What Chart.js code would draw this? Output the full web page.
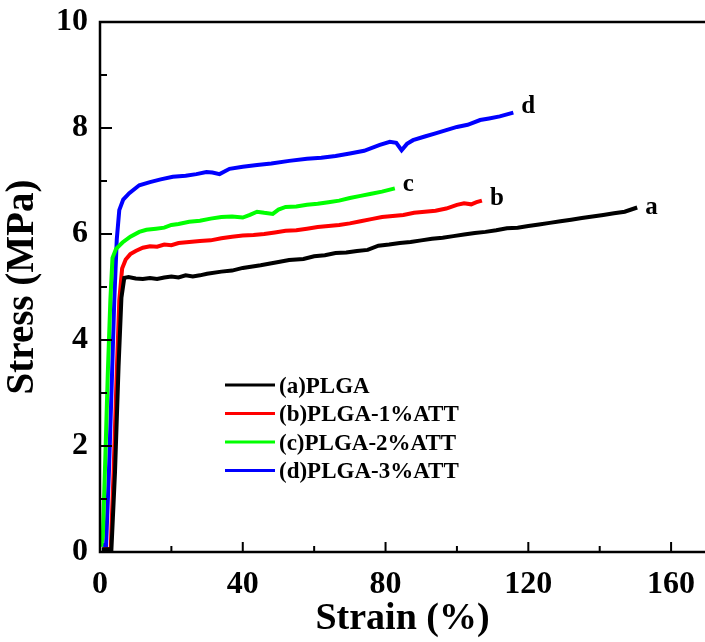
<!DOCTYPE html>
<html>
<head>
<meta charset="utf-8">
<script src="https://cdn.jsdelivr.net/npm/chart.js@4.4.1/dist/chart.umd.min.js"></script>
<style>
  html, body { margin: 0; padding: 0; background: #fff; }
  #wrap { width: 705px; height: 642px; }
</style>
</head>
<body>
<div id="wrap"><canvas id="stressChart" width="705" height="642"></canvas></div>
<script>
// Stress-strain curves
const seriesNames = ["(a)PLGA", "(b)PLGA-1%ATT", "(c)PLGA-2%ATT", "(d)PLGA-3%ATT"];
const endLabels = ["a", "b", "c", "d"];
const seriesColors = ["#000000", "#ff0000", "#00ff00", "#0000ff"];

const strainA = [0.5, 3.2, 4.2, 5.2, 6.0, 6.8, 8, 10, 12, 14, 16, 18, 20, 22, 24, 26, 28, 30, 34, 37, 40, 45, 50, 53, 57, 60, 63, 66, 69, 72, 75, 78, 81, 84, 87, 90, 93, 96, 99, 102, 105, 108, 111, 114, 117, 120, 123, 126, 129, 132, 135, 138, 141, 144, 147, 150.5];
const stressA = [0.05, 0.05, 1.5, 3.5, 4.8, 5.17, 5.19, 5.16, 5.15, 5.17, 5.15, 5.18, 5.2, 5.18, 5.22, 5.2, 5.22, 5.25, 5.29, 5.31, 5.36, 5.41, 5.47, 5.51, 5.53, 5.58, 5.6, 5.64, 5.65, 5.68, 5.7, 5.78, 5.8, 5.83, 5.85, 5.88, 5.91, 5.93, 5.96, 5.99, 6.02, 6.04, 6.07, 6.11, 6.12, 6.15, 6.18, 6.21, 6.24, 6.27, 6.3, 6.33, 6.36, 6.39, 6.42, 6.5];

const strainB = [0.8, 3.0, 3.8, 4.6, 5.4, 6.2, 7.2, 8.5, 10, 12, 14, 16, 18, 20, 22, 25, 28, 31, 34, 37, 40, 43, 46, 49, 52, 55, 58, 61, 64, 67, 70, 73, 76, 79, 82, 85, 88, 91, 94, 97, 100, 102, 104, 105.5, 107];
const stressB = [0.05, 0.05, 1.5, 3.2, 4.75, 5.35, 5.52, 5.62, 5.68, 5.74, 5.77, 5.76, 5.8, 5.79, 5.83, 5.85, 5.87, 5.88, 5.92, 5.95, 5.97, 5.98, 6.0, 6.03, 6.06, 6.07, 6.1, 6.13, 6.15, 6.17, 6.2, 6.24, 6.28, 6.32, 6.34, 6.36, 6.4, 6.42, 6.44, 6.48, 6.55, 6.58, 6.56, 6.6, 6.63];

const strainC = [0.3, 0.8, 1.5, 2.2, 2.9, 3.5, 4.5, 6.3, 8.5, 11, 13, 15.7, 18, 20, 22, 25, 28, 31, 34, 37, 40, 42, 44, 46, 48.4, 50, 52, 55, 58, 61, 64, 67, 70, 73, 76, 79, 82.6];
const stressC = [0.1, 0.3, 1.8, 3.4, 4.75, 5.55, 5.72, 5.84, 5.95, 6.04, 6.08, 6.1, 6.12, 6.17, 6.19, 6.23, 6.25, 6.29, 6.32, 6.33, 6.31, 6.36, 6.42, 6.4, 6.38, 6.46, 6.51, 6.52, 6.55, 6.57, 6.6, 6.63, 6.68, 6.72, 6.76, 6.8, 6.86];

const strainD = [0.4, 1.7, 2.5, 3.3, 4.0, 4.7, 5.4, 6.5, 8.2, 11, 14, 17, 20.4, 24, 27, 29.8, 31.5, 33.5, 36.3, 40, 44, 48, 53, 58, 62, 66, 70, 74, 78.4, 81.2, 83, 84.5, 86, 87.7, 91, 94, 97, 100, 103, 106.5, 109, 112, 115.8];
const stressD = [0.15, 0.12, 1.5, 3.2, 4.75, 5.9, 6.45, 6.65, 6.77, 6.92, 6.98, 7.03, 7.08, 7.1, 7.13, 7.17, 7.16, 7.13, 7.23, 7.27, 7.3, 7.33, 7.38, 7.42, 7.44, 7.47, 7.52, 7.57, 7.68, 7.74, 7.72, 7.58, 7.7, 7.77, 7.84, 7.9, 7.96, 8.02, 8.06, 8.15, 8.18, 8.22, 8.29];

const xTicks = [0, 40, 80, 120, 160];
const yTicks = [0, 2, 4, 6, 8, 10];

const strains = [strainA, strainB, strainC, strainD];
const stresses = [stressA, stressB, stressC, stressD];

const serif = "'Liberation Serif', 'Times New Roman', serif";

const datasets = seriesNames.map((name, i) => ({
    label: name,
    data: strains[i].map((x, k) => ({ x: x, y: stresses[i][k] })),
    borderColor: seriesColors[i],
    backgroundColor: seriesColors[i],
    borderWidth: 4,
    pointRadius: 0,
    tension: 0,
    fill: false,
}));

// axes frame, inward ticks, legend and end letters
const decorations = {
    id: "decorations",
    afterDatasetsDraw(chart) {
        const ctx = chart.ctx;
        const area = chart.chartArea;
        const xs = chart.scales.x;
        const ys = chart.scales.y;
        ctx.save();
        ctx.strokeStyle = "#000";
        ctx.lineWidth = 2.5;
        ctx.beginPath();
        ctx.moveTo(chart.width, area.top);
        ctx.lineTo(area.left, area.top);
        ctx.lineTo(area.left, area.bottom);
        ctx.lineTo(chart.width, area.bottom);
        ctx.stroke();

        ctx.lineWidth = 2;
        ctx.beginPath();
        for (let v = 1; v < 10; v++) {
            const py = ys.getPixelForValue(v);
            const len = v % 2 === 0 ? 12 : 7;
            ctx.moveTo(area.left, py);
            ctx.lineTo(area.left + len, py);
        }
        for (let v = 20; v < 170; v += 20) {
            const px = xs.getPixelForValue(v);
            const len = v % 40 === 0 ? 10 : 6;
            ctx.moveTo(px, area.bottom);
            ctx.lineTo(px, area.bottom - len);
        }
        ctx.stroke();

        // legend
        ctx.font = "bold 23px " + serif;
        ctx.textAlign = "left";
        ctx.textBaseline = "middle";
        chart.data.datasets.forEach((ds, i) => {
            const y = 385 + i * 28.5;
            ctx.strokeStyle = ds.borderColor;
            ctx.lineWidth = 3;
            ctx.beginPath();
            ctx.moveTo(225, y);
            ctx.lineTo(275, y);
            ctx.stroke();
            ctx.fillStyle = "#000";
            ctx.fillText(ds.label, 279, y + 2);
        });

        // letters at the end of each curve
        ctx.font = "bold 25px " + serif;
        const nudge = [[8, 0], [8, -2], [8, -4], [8, -6]];
        chart.data.datasets.forEach((ds, i) => {
            const last = ds.data[ds.data.length - 1];
            const px = xs.getPixelForValue(last.x);
            const py = ys.getPixelForValue(last.y);
            ctx.fillText(endLabels[i], px + nudge[i][0], py + nudge[i][1]);
        });
        ctx.restore();
    },
};

const config = {
    type: "line",
    data: { datasets: datasets },
    options: {
        responsive: false,
        animation: false,
        layout: { padding: { top: 22, right: 0, left: 0, bottom: 0 } },
        plugins: {
            legend: { display: false },
            tooltip: { enabled: false },
        },
        scales: {
            x: {
                type: "linear",
                min: 0,
                max: 169.5,
                grid: { display: false, drawTicks: false },
                border: { display: false },
                afterBuildTicks(scale) {
                    scale.ticks = xTicks.map(v => ({ value: v }));
                },
                afterFit(scale) {
                    scale.height = 90;
                    scale.paddingLeft = 0;
                    scale.paddingRight = 0;
                },
                ticks: {
                    color: "#000",
                    padding: 14,
                    maxRotation: 0,
                    font: { family: serif, size: 32, weight: "bold" },
                },
                title: {
                    display: true,
                    text: "Strain (%)",
                    color: "#000",
                    padding: { top: 0, bottom: 0 },
                    font: { family: serif, size: 38, weight: "bold" },
                },
            },
            y: {
                type: "linear",
                min: 0,
                max: 10,
                grid: { display: false, drawTicks: false },
                border: { display: false },
                afterBuildTicks(scale) {
                    scale.ticks = yTicks.map(v => ({ value: v }));
                },
                afterFit(scale) {
                    scale.width = 100;
                    scale.paddingTop = 0;
                    scale.paddingBottom = 0;
                },
                ticks: {
                    color: "#000",
                    padding: 12,
                    font: { family: serif, size: 32, weight: "bold" },
                },
                title: {
                    display: true,
                    text: "Stress (MPa)",
                    color: "#000",
                    padding: { top: 0, bottom: 11 },
                    font: { family: serif, size: 39, weight: "bold" },
                },
            },
        },
    },
    plugins: [decorations],
};

const ctx = document.getElementById("stressChart").getContext("2d");
const stressChart = new Chart(ctx, config);
</script>
</body>
</html>
